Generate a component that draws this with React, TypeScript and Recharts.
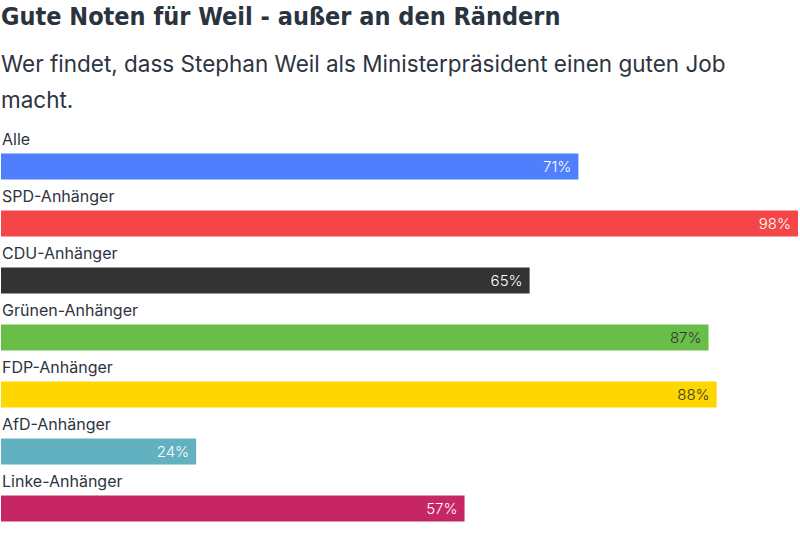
import React from 'react';
import { BarChart, Bar, XAxis, YAxis, Cell, LabelList } from 'recharts';

const categories = ['Alle', 'SPD-Anhänger', 'CDU-Anhänger', 'Grünen-Anhänger', 'FDP-Anhänger', 'AfD-Anhänger', 'Linke-Anhänger'];
const values = [71, 98, 65, 87, 88, 24, 57];
const colors = ['#507ffd', '#f44648', '#333333', '#69be4a', '#ffd700', '#62b1c0', '#c62764'];
const labelColors = ['#ffffff', '#ffffff', '#ffffff', '#333333', '#333333', '#ffffff', '#ffffff'];

const data = categories.map((name, i) => ({ name, value: values[i], idx: i }));

const FONT = 'Inter, "Noto Sans", sans-serif';

const CategoryLabel = (props: any) => {
  const { x, y, index } = props;
  return (
    <text x={x + 1} y={y - 9} fontSize={16} fill="#2d3440" fontFamily={FONT}>
      {categories[index]}
    </text>
  );
};

const ValueLabel = (props: any) => {
  const { x, y, width, height, index } = props;
  return (
    <text
      x={x + width - 7}
      y={y + height / 2}
      dy="0.36em"
      textAnchor="end"
      fontSize={15}
      fontWeight={300}
      fill={labelColors[index]}
      fontFamily={FONT}
    >
      {values[index]}%
    </text>
  );
};

export default function App() {
  return (
    <div style={{ position: 'fixed', left: 0, top: 0, width: 800, height: 544, background: '#fff' }}>
      <div
        style={{
          position: 'absolute',
          left: 1,
          top: 2,
          fontFamily: '"DejaVu Sans Condensed", "DejaVu Sans", sans-serif',
          fontWeight: 700,
          fontSize: 25,
          color: '#2a3440',
          whiteSpace: 'nowrap',
        }}
      >
        Gute Noten für Weil - außer an den Rändern
      </div>
      <div
        style={{
          position: 'absolute',
          left: 1,
          top: 46,
          width: 760,
          fontFamily: FONT,
          fontSize: 22.5,
          lineHeight: '36px',
          color: '#2d3440',
        }}
      >
        Wer findet, dass Stephan Weil als Ministerpräsident einen guten Job macht.
      </div>
      <div style={{ position: 'absolute', left: 0, top: 0 }}>
        <BarChart
          width={800}
          height={544}
          data={data}
          layout="vertical"
          margin={{ top: 137.5, right: 2, bottom: 7.5, left: 1 }}
          barSize={26}
        >
          <XAxis type="number" domain={[0, 98]} hide />
          <YAxis type="category" dataKey="name" hide width={0} />
          <Bar dataKey="value" isAnimationActive={false}>
            {data.map((d, i) => (
              <Cell key={d.name} fill={colors[i]} />
            ))}
            <LabelList dataKey="value" content={CategoryLabel} />
            <LabelList dataKey="value" content={ValueLabel} />
          </Bar>
        </BarChart>
      </div>
    </div>
  );
}
